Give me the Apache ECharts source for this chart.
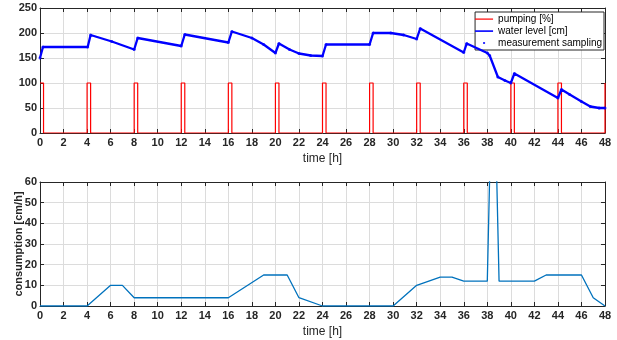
<!DOCTYPE html>
<html>
<head>
<meta charset="utf-8">
<script src="https://cdn.jsdelivr.net/npm/echarts@6/dist/echarts.min.js"></script>
<style>
  html, body { margin: 0; padding: 0; background: #fff; }
  #chart { width: 617px; height: 340px; }
</style>
</head>
<body>
<div id="chart"></div>
<script>
// water level [h] / [cm]
const levelTime = [0, 0.25, 4.05, 4.3, 6.1, 8.0, 8.3, 12.0, 12.3, 16.0, 16.3, 18.0, 19.0, 20.0, 20.3,
  21.2, 22, 23, 24, 24.3, 28, 28.3, 29.8, 30.9, 32, 32.3, 36, 36.25, 38, 38.2, 38.9, 39.5, 40, 40.3,
  44, 44.3, 45, 46, 46.75, 47.5, 48];
const levelValue = [150, 172, 172, 196, 183, 167, 190, 174, 197, 181, 203, 190, 177, 160, 179,
  167, 159, 155, 154, 177, 177, 200, 200, 196, 188, 209, 161, 179, 160, 155, 112, 105, 100, 119,
  70, 87, 77, 63, 53, 50, 50];

// pump on / off times [h], pump runs at 100 %
const pumpOn = [0, 4, 8, 12, 16, 20, 24, 28, 32, 36, 40, 44, 48];
const pumpOff = [0.3, 4.3, 8.3, 12.3, 16.3, 20.3, 24.3, 28.3, 32.3, 36.3, 40.3, 44.3, 48];

// consumption, lower plot [h] / [cm/h]
const consTime = [0, 4, 6, 7, 8, 16, 19, 21, 22, 24, 30, 32, 34, 35, 36, 38, 38.25, 38.75, 39,
  42, 43, 46, 47, 48];
const consValue = [0, 0, 10, 10, 4, 4, 15, 15, 4, 0, 0, 10, 14, 14, 12, 12, 75, 75, 12,
  12, 15, 15, 4, 0];

const hourTicks = [0, 48, 2];

// build the step line for the pump
let pumpData = [];
pumpOn.forEach((t, i) => {
  if (i > 0) pumpData.push([t, 0]);
  pumpData.push([t, 100]);
  if (pumpOff[i] > t) {
    pumpData.push([pumpOff[i], 100]);
    pumpData.push([pumpOff[i], 0]);
  }
});

const levelData = levelTime.map((t, i) => [t, levelValue[i]]);
const consData = consTime.map((t, i) => [t, consValue[i]]);

const font = 'Liberation Sans, Arial, Helvetica, sans-serif';
const axisColor = '#262626';
const gridColor = '#dcdcdc';

function xAx(grid, pos, labels) {
  return {
    type: 'value', gridIndex: grid, position: pos,
    min: hourTicks[0], max: hourTicks[1], interval: hourTicks[2],
    axisLine: { show: true, onZero: false, lineStyle: { color: axisColor, width: 1 } },
    axisTick: { show: true, inside: true, length: 4, lineStyle: { color: axisColor } },
    axisLabel: {
      show: labels, color: axisColor, fontSize: 11, fontWeight: 'bold',
      fontFamily: font, margin: 4
    },
    splitLine: { show: labels, lineStyle: { color: gridColor, width: 1 } },
    name: labels ? 'time [h]' : '', nameLocation: 'middle', nameGap: 20, nameMoveOverlap: false,
    nameTextStyle: { color: axisColor, fontSize: 12, fontFamily: font }
  };
}

function yAx(grid, pos, max, step, labels, name) {
  return {
    type: 'value', gridIndex: grid, position: pos, min: 0, max: max, interval: step,
    axisLine: { show: true, onZero: false, lineStyle: { color: axisColor, width: 1 } },
    axisTick: { show: true, inside: true, length: 4, lineStyle: { color: axisColor } },
    axisLabel: {
      show: labels, color: axisColor, fontSize: 11, fontWeight: 'bold',
      fontFamily: font, margin: 3
    },
    splitLine: { show: labels, lineStyle: { color: gridColor, width: 1 } },
    name: name || '', nameLocation: 'middle', nameGap: 16, nameMoveOverlap: false,
    nameTextStyle: { color: axisColor, fontSize: 11, fontWeight: 'bold', fontFamily: font }
  };
}

const chart = echarts.init(document.getElementById('chart'));

chart.setOption({
  animation: false,
  backgroundColor: '#fff',
  grid: [
    { left: 40, right: 12, top: 8, height: 125, outerBoundsMode: 'none' },
    { left: 40, right: 12, top: 182, height: 124, outerBoundsMode: 'none' }
  ],
  xAxis: [
    xAx(0, 'bottom', true), xAx(0, 'top', false),
    xAx(1, 'bottom', true), xAx(1, 'top', false)
  ],
  yAxis: [
    yAx(0, 'left', 250, 50, true), yAx(0, 'right', 250, 50, false),
    yAx(1, 'left', 60, 10, true, 'consumption [cm/h]'), yAx(1, 'right', 60, 10, false)
  ],
  legend: {
    orient: 'vertical', right: 13, top: 12,
    backgroundColor: '#fff', borderColor: axisColor, borderWidth: 1, borderRadius: 0,
    padding: [1, 2, 1, 0], itemGap: 0, itemWidth: 18, itemHeight: 12,
    textStyle: { color: '#000', fontSize: 10, fontFamily: font, lineHeight: 12 },
    data: [
      { name: 'pumping [%]', icon: 'path://M0,0M18,12M0,5.5H18V6.7H0Z' },
      { name: 'water level [cm]', icon: 'path://M0,0M18,12M0,5.3H18V6.9H0Z' },
      { name: 'measurement sampling', icon: 'path://M0,0M18,12M8,5H10V7H8Z' }
    ]
  },
  series: [
    {
      name: 'pumping [%]', type: 'line', xAxisIndex: 0, yAxisIndex: 0,
      data: pumpData, showSymbol: false, symbol: 'none', z: 3,
      color: '#ff0000', lineStyle: { color: '#ff0000', width: 1.2 }
    },
    {
      name: 'water level [cm]', type: 'line', xAxisIndex: 0, yAxisIndex: 0,
      data: levelData, showSymbol: false, symbol: 'none', z: 4,
      color: '#0000ff', lineStyle: { color: '#0000ff', width: 2.3 }
    },
    {
      name: 'measurement sampling', type: 'scatter', xAxisIndex: 0, yAxisIndex: 0,
      data: levelData, symbol: 'circle', symbolSize: 3, z: 5,
      color: '#0000ff', itemStyle: { color: '#0000ff' }
    },
    {
      name: 'consumption', type: 'line', xAxisIndex: 2, yAxisIndex: 2,
      data: consData, showSymbol: false, symbol: 'none', clip: true,
      color: '#0072bd', lineStyle: { color: '#0072bd', width: 1.3 }
    }
  ]
});
</script>
</body>
</html>
